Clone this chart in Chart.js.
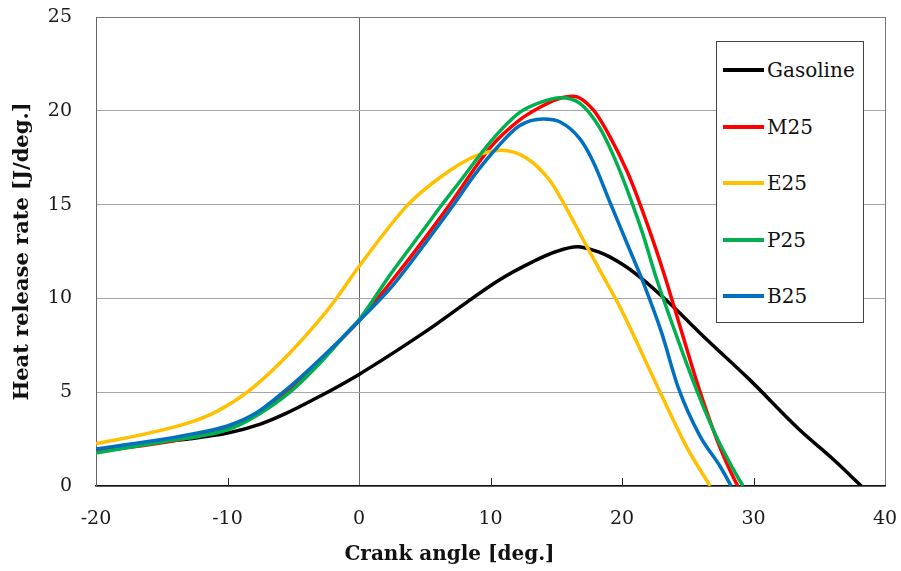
<!DOCTYPE html>
<html>
<head>
<meta charset="utf-8">
<script src="https://cdn.jsdelivr.net/npm/chart.js@4.4.1/dist/chart.umd.min.js"></script>
<style>
  html, body { margin: 0; padding: 0; background: #fff; }
  #wrap { position: relative; width: 901px; height: 571px; }
  #legend { position: absolute; left: 716px; top: 41px; width: 148px; height: 282px;
            border: 1px solid #444; background: #fff; box-sizing: border-box;
            font-family: "DejaVu Serif", serif; font-size: 20px; color: #111; }
  .item { position: absolute; left: 6px; height: 24px; display: flex; align-items: center; }
  .swatch { display: inline-block; width: 41px; height: 4px; margin-right: 3px; }
</style>
</head>
<body>
<div id="wrap">
  <canvas id="myChart" width="901" height="571"></canvas>
  <div id="legend"></div>
</div>
<script>
// crank angle [deg.] and heat release rate [J/deg.]
const gasolineAngle = [-20, -15.9, -12.85, -10, -7.5, -5.76, -3.2, 0, 5, 10.7, 13.2, 15.0, 16.6, 18.3, 19.1, 20.4, 21.6, 23.6, 26.2, 29.7, 33.5, 36.1, 38.2];
const gasolineRate  = [1.88, 2.29, 2.52, 2.82, 3.3, 3.8, 4.7, 5.95, 8.2, 11.0, 11.95, 12.5, 12.75, 12.45, 12.2, 11.65, 11.0, 9.75, 7.97, 5.67, 3.0, 1.4, 0];

const m25Angle = [-20, -15, -10, -7.8, -5.5, -3.2, 0, 2.46, 5.0, 6.64, 10.06, 12.2, 13.8, 15, 16.3, 17.8, 19.1, 20.4, 21.2, 22.4, 23.2, 24.5, 25.9, 27.2, 28.2, 28.8];
const m25Rate  = [1.85, 2.3, 3.1, 3.85, 5.0, 6.55, 8.8, 10.9, 13.2, 14.75, 18.1, 19.5, 20.2, 20.6, 20.77, 20.06, 18.6, 16.75, 15.35, 13.0, 11.3, 8.3, 5.1, 2.5, 0.85, 0];

const e25Angle = [-20, -15.9, -12.85, -10.8, -8.5, -5.76, -3.2, -1.95, 0, 3.73, 6.26, 8.8, 10.8, 12.7, 14.5, 15.3, 17.3, 19.1, 19.8, 22.9, 24.9, 26.7];
const e25Rate  = [2.25, 2.83, 3.39, 3.98, 5.0, 6.73, 8.69, 9.78, 11.7, 15.0, 16.5, 17.57, 17.9, 17.5, 16.3, 15.4, 12.8, 10.5, 9.6, 5.0, 2.1, 0];

const p25Angle = [-20, -15, -10, -7.8, -5.25, -3.2, -0.7, 0, 2.46, 5.0, 6.26, 7.53, 10.06, 12.2, 13.8, 15.3, 16.8, 18.3, 19.6, 20.6, 21.6, 22.6, 24.2, 25.8, 27.2, 28.5, 29.2];
const p25Rate  = [1.76, 2.35, 3.0, 3.75, 5.0, 6.38, 8.33, 8.86, 11.35, 13.75, 14.95, 16.1, 18.4, 19.9, 20.45, 20.7, 20.4, 19.1, 17.2, 15.4, 13.4, 11.1, 7.9, 4.9, 2.6, 0.85, 0];

const b25Angle = [-20, -15.9, -12.85, -10, -7.8, -5.76, -3.2, 0, 2.46, 5.0, 7.0, 8.8, 10.57, 12.2, 14.0, 15.3, 16.8, 17.8, 19.1, 20.4, 21.7, 23.0, 24.3, 25.9, 27.5, 28.3];
const b25Rate  = [1.97, 2.38, 2.75, 3.2, 3.9, 5.0, 6.6, 8.8, 10.6, 12.9, 14.8, 16.6, 18.1, 19.2, 19.56, 19.4, 18.5, 17.3, 15.1, 12.9, 10.7, 8.2, 5.2, 2.7, 1.0, 0];

const xTicks = [-20, -10, 0, 10, 20, 30, 40];
const yTicks = [0, 5, 10, 15, 20, 25];

const SERIF = '"DejaVu Serif", "Liberation Serif", serif';

function pts(xs, ys) {
    return xs.map((x, i) => ({x: x, y: ys[i]}));
}

function series(label, xs, ys, color, order) {
    return {
        label: label,
        data: pts(xs, ys),
        borderColor: color,
        backgroundColor: color,
        borderWidth: 3.5,
        pointRadius: 0,
        cubicInterpolationMode: 'monotone',
        order: order
    };
}

// small upward tick marks on the x axis
const innerTicks = {
    id: 'innerTicks',
    afterDatasetsDraw(chart) {
        const xs = chart.scales.x;
        const ctx = chart.ctx;
        const bottom = chart.chartArea.bottom;
        ctx.save();
        ctx.strokeStyle = '#222';
        ctx.lineWidth = 1;
        xTicks.forEach(v => {
            if (v === -20 || v === 40 || v === 0) return;
            const px = Math.round(xs.getPixelForValue(v)) + 0.5;
            ctx.beginPath();
            ctx.moveTo(px, bottom);
            ctx.lineTo(px, bottom - 8);
            ctx.stroke();
        });
        ctx.restore();
    }
};

const myChartRef = document.getElementById('myChart').getContext('2d');

const chart = new Chart(myChartRef, {
    type: 'line',
    data: {
        datasets: [
            series('Gasoline', gasolineAngle, gasolineRate, '#000000', 5),
            series('M25', m25Angle, m25Rate, '#FF0000', 4),
            series('E25', e25Angle, e25Rate, '#FFC000', 3),
            series('P25', p25Angle, p25Rate, '#00B050', 2),
            series('B25', b25Angle, b25Rate, '#0070C0', 1)
        ]
    },
    plugins: [innerTicks],
    options: {
        responsive: false,
        animation: false,
        layout: {padding: {top: 17, right: 2, left: 0, bottom: 0}},
        plugins: {
            legend: {display: false},
            tooltip: {enabled: false},
            title: {
                display: true,
                position: 'bottom',
                text: 'Crank angle [deg.]',
                color: '#111',
                font: {family: SERIF, size: 20, weight: 'bold'},
                padding: {top: 0, bottom: 4}
            }
        },
        scales: {
            x: {
                type: 'linear',
                min: -20,
                max: 40,
                afterBuildTicks: s => { s.ticks = xTicks.map(v => ({value: v})); },
                afterFit: s => {
                    s.height = 57;
                    s.paddingLeft = 0;
                    s.paddingRight = 16;   // plot box ends at 885px
                },
                ticks: {
                    color: '#1a1a1a',
                    font: {family: SERIF, size: 19},
                    padding: 22,
                    maxRotation: 0
                },
                grid: {
                    drawTicks: false,
                    color: c => (c.tick && (c.tick.value === 0)) ? '#666' :
                                (c.tick && c.tick.value === 40) ? '#777' : 'rgba(0,0,0,0)'
                },
                border: {color: '#111', width: 1.5}
            },
            y: {
                type: 'linear',
                min: 0,
                max: 25,
                afterBuildTicks: s => { s.ticks = yTicks.map(v => ({value: v})); },
                afterFit: s => {
                    s.width = 96;
                    s.paddingTop = 0;
                    s.paddingBottom = 0;
                },
                ticks: {
                    color: '#1a1a1a',
                    font: {family: SERIF, size: 19},
                    padding: 24
                },
                grid: {
                    drawTicks: false,
                    color: c => (c.tick && c.tick.value === 25) ? '#777' : '#a6a6a6'
                },
                border: {color: '#666', width: 1},
                title: {
                    display: true,
                    text: 'Heat release rate [J/deg.]',
                    color: '#111',
                    font: {family: SERIF, size: 21, weight: 'bold'},
                    padding: {top: 10, bottom: 0}
                }
            }
        }
    }
});

// legend box built from the chart's datasets
const legendEl = document.getElementById('legend');
const centers = [28, 84.5, 141, 197.5, 254];
chart.data.datasets.forEach((ds, i) => {
    const item = document.createElement('div');
    item.className = 'item';
    item.style.top = (centers[i] - 12) + 'px';
    const sw = document.createElement('span');
    sw.className = 'swatch';
    sw.style.background = ds.borderColor;
    const txt = document.createElement('span');
    txt.textContent = ds.label;
    item.appendChild(sw);
    item.appendChild(txt);
    legendEl.appendChild(item);
});
</script>
</body>
</html>
